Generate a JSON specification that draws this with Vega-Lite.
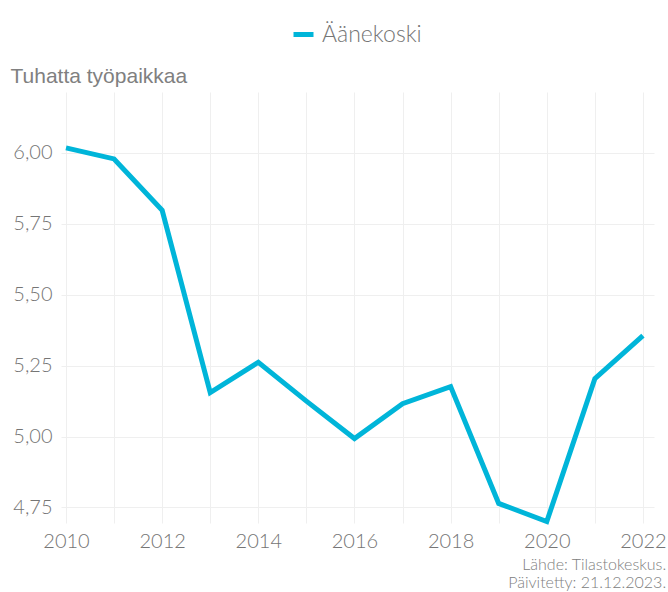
{
  "$schema": "https://vega.github.io/schema/vega-lite/v6.json",
  "width": 588,
  "height": 431,
  "autosize": {"type": "none"},
  "padding": {"left": 66, "top": 92, "right": 14, "bottom": 69},
  "background": "white",
  "title": {
    "text": ["Lähde: Tilastokeskus.", "Päivitetty: 21.12.2023."],
    "orient": "bottom",
    "anchor": "end",
    "font": "Lato",
    "fontWeight": 300,
    "fontSize": 16,
    "lineHeight": 18,
    "color": "#808080",
    "offset": 6
  },
  "data": {
    "values": [
      {"vuosi": 2010, "arvo": 6.018, "alue": "Äänekoski"},
      {"vuosi": 2011, "arvo": 5.979, "alue": "Äänekoski"},
      {"vuosi": 2012, "arvo": 5.798, "alue": "Äänekoski"},
      {"vuosi": 2013, "arvo": 5.155, "alue": "Äänekoski"},
      {"vuosi": 2014, "arvo": 5.262, "alue": "Äänekoski"},
      {"vuosi": 2015, "arvo": 5.125, "alue": "Äänekoski"},
      {"vuosi": 2016, "arvo": 4.993, "alue": "Äänekoski"},
      {"vuosi": 2017, "arvo": 5.116, "alue": "Äänekoski"},
      {"vuosi": 2018, "arvo": 5.176, "alue": "Äänekoski"},
      {"vuosi": 2019, "arvo": 4.764, "alue": "Äänekoski"},
      {"vuosi": 2020, "arvo": 4.700, "alue": "Äänekoski"},
      {"vuosi": 2021, "arvo": 5.204, "alue": "Äänekoski"},
      {"vuosi": 2022, "arvo": 5.356, "alue": "Äänekoski"}
    ]
  },
  "mark": {"type": "line", "strokeWidth": 5, "strokeJoin": "miter", "strokeCap": "butt"},
  "encoding": {
    "x": {
      "field": "vuosi",
      "type": "quantitative",
      "scale": {"domain": [2010, 2022.23], "nice": false, "zero": false},
      "axis": {
        "title": null,
        "values": [2010, 2011, 2012, 2013, 2014, 2015, 2016, 2017, 2018, 2019, 2020, 2021, 2022],
        "labelExpr": "datum.value % 2 == 0 ? format(datum.value, 'd') : ''",
        "ticks": false,
        "domain": false,
        "grid": true,
        "gridColor": "#efefef",
        "gridWidth": 1,
        "labelPadding": 8,
        "labelFont": "Lato",
        "labelFontWeight": 300,
        "labelFontSize": 20,
        "labelColor": "#757575",
        "labelBaseline": "top",
        "labelFlush": false,
        "labelOverlap": false
      }
    },
    "y": {
      "field": "arvo",
      "type": "quantitative",
      "scale": {"domain": [4.695, 6.215], "nice": false, "zero": false},
      "axis": {
        "title": "Tuhatta työpaikkaa",
        "titleAngle": 0,
        "titleAlign": "left",
        "titleBaseline": "alphabetic",
        "titleX": -56,
        "titleY": -10,
        "titleFont": "Liberation Sans",
        "titleFontWeight": "normal",
        "titleFontSize": 21,
        "titleColor": "#808080",
        "values": [4.75, 5, 5.25, 5.5, 5.75, 6],
        "labelExpr": "replace(format(datum.value, '.2f'), '.', ',')",
        "domain": false,
        "ticks": true,
        "tickSize": 5,
        "tickColor": "#efefef",
        "grid": true,
        "gridColor": "#efefef",
        "gridWidth": 1,
        "labelPadding": 9,
        "labelFont": "Lato",
        "labelFontWeight": 300,
        "labelFontSize": 20,
        "labelColor": "#757575"
      }
    },
    "color": {
      "field": "alue",
      "type": "nominal",
      "scale": {"range": ["#00b5d9"]},
      "legend": {
        "title": null,
        "orient": "none",
        "legendX": 225,
        "legendY": -70,
        "symbolType": "stroke",
        "symbolStrokeWidth": 5,
        "symbolSize": 400,
        "labelFont": "Lato",
        "labelFontWeight": 300,
        "labelFontSize": 23,
        "labelColor": "#757575",
        "labelOffset": 6
      }
    }
  },
  "config": {
    "view": {"stroke": null}
  }
}
